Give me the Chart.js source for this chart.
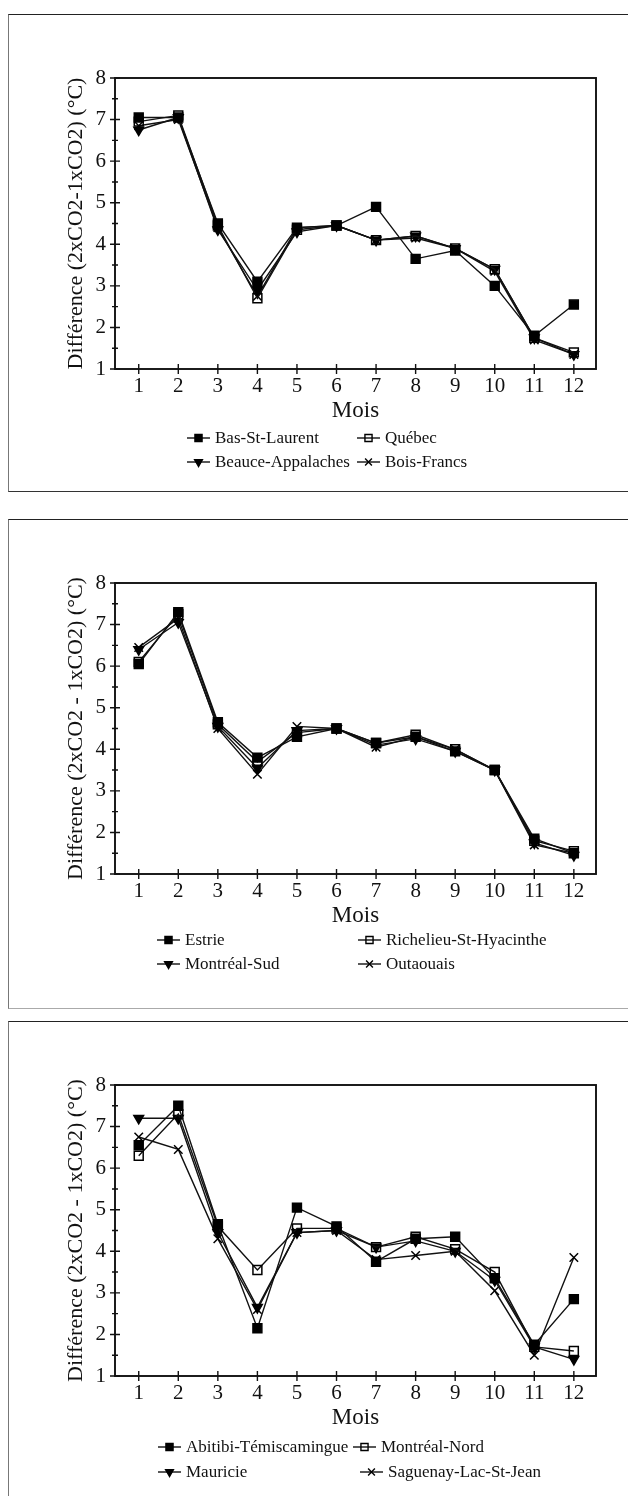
<!DOCTYPE html>
<html lang="fr">
<head>
<meta charset="utf-8">
<title>Différence 2xCO2 - 1xCO2 par région</title>
<script src="https://cdn.jsdelivr.net/npm/chart.js@4/dist/chart.umd.min.js"></script>
<style>
  html, body { margin: 0; padding: 0; background: #fff; }
  body { width: 628px; height: 1496px; position: relative; overflow: hidden; }
  .frame { position: absolute; left: 8px; width: 700px; box-sizing: border-box;
           border-left: 1px solid #777; border-top: 1.5px solid #222; }
  canvas { position: absolute; left: 0; }
</style>
</head>
<body>
<div class="frame" style="top:14px;height:478px;border-bottom:1.5px solid #333"></div>
<div class="frame" style="top:519px;height:490px;border-bottom:1px solid #aaa"></div>
<div class="frame" style="top:1021px;height:480px;"></div>
<canvas id="c1" width="628" height="477" style="top:14px"></canvas>
<canvas id="c2" width="628" height="489" style="top:519px"></canvas>
<canvas id="c3" width="628" height="475" style="top:1021px"></canvas>
<script>
// Months and axis ticks
const months = [1, 2, 3, 4, 5, 6, 7, 8, 9, 10, 11, 12];
const yTicks = [1, 2, 3, 4, 5, 6, 7, 8];

// Panel 1 — temperature difference per month (°C)
const regions1 = ['Bas-St-Laurent', 'Québec', 'Beauce-Appalaches', 'Bois-Francs'];
const basStLaurent = [7.05, 7.05, 4.5, 3.1, 4.4, 4.45, 4.9, 3.65, 3.85, 3.0, 1.8, 2.55];
const quebec       = [6.95, 7.1, 4.45, 2.7, 4.35, 4.45, 4.1, 4.2, 3.9, 3.4, 1.75, 1.4];
const beauce       = [6.75, 7.05, 4.35, 2.9, 4.3, 4.45, 4.1, 4.2, 3.9, 3.4, 1.75, 1.35];
const boisFrancs   = [6.85, 7.0, 4.4, 2.75, 4.4, 4.45, 4.1, 4.15, 3.9, 3.35, 1.7, 1.35];

// Panel 2
const regions2 = ['Estrie', 'Richelieu-St-Hyacinthe', 'Montréal-Sud', 'Outaouais'];
const estrie      = [6.05, 7.3, 4.65, 3.8, 4.3, 4.5, 4.15, 4.3, 3.95, 3.5, 1.85, 1.5];
const richelieu   = [6.1, 7.25, 4.6, 3.7, 4.4, 4.5, 4.15, 4.35, 4.0, 3.5, 1.8, 1.55];
const montrealSud = [6.4, 7.05, 4.55, 3.55, 4.45, 4.5, 4.1, 4.25, 3.95, 3.5, 1.75, 1.45];
const outaouais   = [6.45, 7.15, 4.5, 3.4, 4.55, 4.5, 4.05, 4.3, 4.0, 3.5, 1.7, 1.5];

// Panel 3
const regions3 = ['Abitibi-Témiscamingue', 'Montréal-Nord', 'Mauricie', 'Saguenay-Lac-St-Jean'];
const abitibi      = [6.55, 7.5, 4.65, 2.15, 5.05, 4.6, 3.75, 4.3, 4.35, 3.35, 1.75, 2.85];
const montrealNord = [6.3, 7.3, 4.6, 3.55, 4.55, 4.55, 4.1, 4.35, 4.05, 3.5, 1.7, 1.6];
const mauricie     = [7.2, 7.2, 4.45, 2.65, 4.45, 4.5, 4.1, 4.25, 4.0, 3.3, 1.7, 1.4];
const saguenay     = [6.75, 6.45, 4.3, 2.6, 4.45, 4.5, 3.8, 3.9, 4.0, 3.05, 1.5, 3.85];

const SERIF = "'Liberation Serif', 'Times New Roman', serif";

// Marker look for the 1st..4th series of every panel
const markers = [
  { pointStyle: 'rect',     radius: 6.3, rotation: 0,   fill: '#000' },
  { pointStyle: 'rect',     radius: 6.3, rotation: 0,   fill: 'rgba(0,0,0,0)' },
  { pointStyle: 'triangle', radius: 5.6, rotation: 180, fill: '#000' },
  { pointStyle: 'crossRot', radius: 6.0, rotation: 0,   fill: '#000' }
];

// Axis frame with crossing tick marks
const frameTicks = {
  id: 'frameTicks',
  beforeDatasetsDraw(chart) {
    const { ctx, chartArea: a, scales: { x, y } } = chart;
    ctx.save();
    ctx.strokeStyle = '#111';
    ctx.lineWidth = 1.9;
    ctx.strokeRect(a.left, a.top, a.right - a.left, a.bottom - a.top);
    ctx.lineWidth = 1.4;
    ctx.beginPath();
    yTicks.forEach(v => {
      const py = y.getPixelForValue(v);
      ctx.moveTo(a.left - 5, py); ctx.lineTo(a.left + 5, py);
      if (v < yTicks[yTicks.length - 1]) {
        const pm = y.getPixelForValue(v + 0.5);
        ctx.moveTo(a.left - 3, pm); ctx.lineTo(a.left + 3, pm);
      }
    });
    months.forEach(m => {
      const px = x.getPixelForValue(m);
      ctx.moveTo(px, a.bottom - 5); ctx.lineTo(px, a.bottom + 5);
    });
    ctx.stroke();
    ctx.restore();
  }
};

// Two-row legend, each item at its own column position
const gridLegend = {
  id: 'gridLegend',
  afterDraw(chart, args, opts) {
    const { ctx, chartArea: a } = chart;
    ctx.save();
    ctx.font = '17px ' + SERIF;
    ctx.textBaseline = 'middle';
    ctx.textAlign = 'left';
    chart.data.datasets.forEach((ds, i) => {
      const x0 = opts.itemX[i];
      const yy = a.bottom + opts.rowOffsets[opts.itemRow[i]];
      ctx.strokeStyle = '#111';
      ctx.lineWidth = 1.4;
      ctx.beginPath();
      ctx.moveTo(x0, yy); ctx.lineTo(x0 + 23, yy);
      ctx.stroke();
      const m = markers[i];
      ctx.fillStyle = m.fill;
      ctx.strokeStyle = '#000';
      ctx.lineWidth = 1.4;
      Chart.helpers.drawPoint(ctx, {
        pointStyle: m.pointStyle, rotation: m.rotation,
        radius: m.radius * 0.8, borderWidth: 1.4
      }, x0 + 11.5, yy);
      ctx.fillStyle = '#111';
      ctx.fillText(ds.label, x0 + 28, yy + 1);
    });
    ctx.restore();
  }
};

function buildDatasets(names, series) {
  return series.map((vals, i) => ({
    label: names[i],
    data: vals.map((v, k) => ({ x: months[k], y: v })),
    borderColor: '#111',
    borderWidth: 1.4,
    pointStyle: markers[i].pointStyle,
    pointRadius: markers[i].radius,
    pointRotation: markers[i].rotation,
    pointBackgroundColor: markers[i].fill,
    pointBorderColor: '#000',
    pointBorderWidth: 1.5,
    tension: 0,
    fill: false
  }));
}

function makePanel(canvasId, names, series, yTitle, legendLayout) {
  const canvas = document.getElementById(canvasId);
  const plotTop = 64, plotH = 291, xAxisH = 56;
  const padBottom = canvas.height - plotTop - plotH - xAxisH;
  return new Chart(canvas, {
    type: 'line',
    data: { datasets: buildDatasets(names, series) },
    options: {
      responsive: false,
      animation: false,
      devicePixelRatio: 1,
      layout: { padding: { top: plotTop, right: 32, bottom: padBottom, left: 0 } },
      plugins: {
        legend: { display: false },
        tooltip: { enabled: false },
        gridLegend: legendLayout
      },
      scales: {
        x: {
          type: 'linear',
          min: 0.4,
          max: 12.56,
          afterBuildTicks: s => { s.ticks = months.map(v => ({ value: v })); },
          afterFit: s => { s.height = xAxisH; },
          grid: { display: false, drawTicks: false },
          border: { display: false },
          ticks: {
            padding: 5,
            color: '#111',
            font: { family: SERIF, size: 21 },
            callback: v => String(v),
            maxRotation: 0,
            autoSkip: false
          },
          title: {
            display: true,
            text: 'Mois',
            color: '#111',
            font: { family: SERIF, size: 23 },
            padding: { top: 0, bottom: 0 }
          }
        },
        y: {
          min: 1,
          max: 8,
          afterBuildTicks: s => { s.ticks = yTicks.map(v => ({ value: v })); },
          afterFit: s => { s.width = 115; },
          grid: { display: false, drawTicks: false },
          border: { display: false },
          ticks: {
            padding: 9,
            color: '#111',
            font: { family: SERIF, size: 21 },
            callback: v => String(v)
          },
          title: {
            display: true,
            text: yTitle,
            color: '#111',
            font: { family: SERIF, size: 22 },
            padding: { top: 63, bottom: 0 }
          }
        }
      }
    },
    plugins: [frameTicks, gridLegend]
  });
}

makePanel('c1', regions1, [basStLaurent, quebec, beauce, boisFrancs],
  'Différence (2xCO2-1xCO2) (°C)',
  { itemX: [187, 357, 187, 357], itemRow: [0, 0, 1, 1], rowOffsets: [69, 93] });

makePanel('c2', regions2, [estrie, richelieu, montrealSud, outaouais],
  'Différence (2xCO2 - 1xCO2) (°C)',
  { itemX: [157, 358, 157, 358], itemRow: [0, 0, 1, 1], rowOffsets: [66, 90] });

makePanel('c3', regions3, [abitibi, montrealNord, mauricie, saguenay],
  'Différence (2xCO2 - 1xCO2) (°C)',
  { itemX: [158, 353, 158, 360], itemRow: [0, 0, 1, 1], rowOffsets: [71, 96] });
</script>
</body>
</html>
